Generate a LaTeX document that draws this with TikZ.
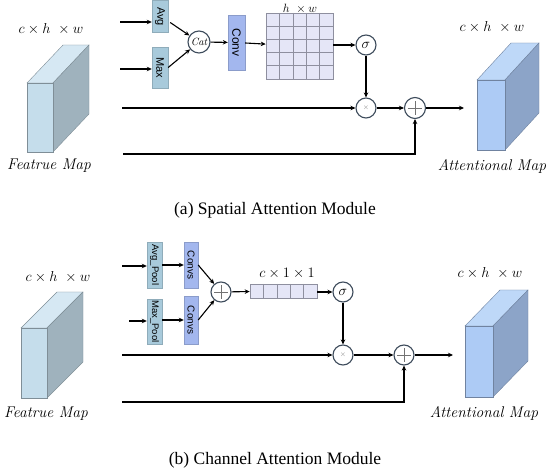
\documentclass[tikz,border=0pt]{standalone}
\usepackage{fontspec}
\setsansfont{Liberation Sans}
\newfontfamily\capfont{Liberation Serif}
\usepackage{graphicx}
\usetikzlibrary{arrows.meta}

\definecolor{featfront}{HTML}{C5DDEB}
\definecolor{feattop}{HTML}{D6E8F3}
\definecolor{featside}{HTML}{9FB2BD}
\definecolor{attfront}{HTML}{ADCBF5}
\definecolor{atttop}{HTML}{BED8F8}
\definecolor{attside}{HTML}{8CA4C8}
\definecolor{poolfill}{HTML}{A8CADB}
\definecolor{convfill}{HTML}{A3B7EE}
\definecolor{cellfill}{HTML}{E5E6F7}
\definecolor{cellline}{HTML}{8E8F9F}
\definecolor{ringcol}{HTML}{3E4C5C}

% block: x, y(top), width, height, dx, dy, front, top, side
\newcommand{\drawblock}[9]{%
  \filldraw[fill=#8, draw=#9!80!black, line width=0.4pt] (#1,#2) -- (#1+#3,#2) -- ++(#5,-#6) -- ++(-#3,0) -- cycle;
  \filldraw[fill=#9, draw=#9!80!black, line width=0.4pt] (#1+#3,#2) -- ++(#5,-#6) -- ++(0,#4) -- (#1+#3,#2+#4) -- cycle;
  \filldraw[fill=#7, draw=#9!80!black, line width=0.4pt] (#1,#2) rectangle ++(#3,#4);
}

\begin{document}
\begin{tikzpicture}[x=1pt,y=-1pt,
  dimtext/.style={font=\fontsize{14.5}{14.5}\selectfont},
  mapname/.style={font=\fontsize{15.5}{15.5}\selectfont\itshape},
  caption/.style={font=\capfont\fontsize{17.5}{17.5}\selectfont},
  pool/.style={draw=poolfill!85!black, fill=poolfill, minimum width=15, inner sep=0, font=\sffamily\fontsize{9.5}{9.5}\selectfont},
  conv/.style={draw=convfill!85!black, fill=convfill, minimum width=16, inner sep=0, font=\sffamily\fontsize{10}{10}\selectfont},
  ring/.style={circle, draw=ringcol, fill=white, line width=1.1pt, minimum size=20, inner sep=0},
  plus/.style={path picture={
    \draw[gray!90!black, line width=0.6pt] ([xshift=-7pt]path picture bounding box.center) -- ([xshift=7pt]path picture bounding box.center);
    \draw[gray!90!black, line width=0.6pt] ([yshift=-7pt]path picture bounding box.center) -- ([yshift=7pt]path picture bounding box.center);}},
  cellbox/.style={draw=cellline, fill=cellfill, inner sep=0, line width=0.6pt},
  arr/.style={-{Stealth[length=5pt,width=4.5pt]}, line width=1.1pt}]
\useasboundingbox (0,0) rectangle (550,470);

% (a) spatial attention
\node[dimtext] (dimA) at (51,29) {$c\times h\ \times w$};
\drawblock{27}{83}{26}{69}{36}{38}{featfront}{feattop}{featside}
\node[mapname] (featA) at (49,166) {Featrue Map};
\coordinate (inA1) at (120,22);
\coordinate (inA2) at (120,69);
\node[pool, minimum width=16, minimum height=32, font=\sffamily\fontsize{11}{11}\selectfont] (avgA) at (160,16.5) {\rotatebox{-90}{Avg}};
\node[pool, minimum width=16, minimum height=41, font=\sffamily\fontsize{11}{11}\selectfont] (maxA) at (160,67.5) {\rotatebox{-90}{Max}};
\draw[arr] (inA1) -- (inA1 -| avgA.west);
\draw[arr] (inA2) -- (inA2 -| maxA.west);
\node[ring, minimum size=22] (catA) at (199,42) {\fontsize{10.5}{10.5}\selectfont\itshape Cat};
\draw[arr] ([xshift=2pt,yshift=-6pt]avgA.east) -- (catA);
\draw[arr] (maxA.east) -- (catA);
\node[conv, minimum width=17, minimum height=55, font=\sffamily\fontsize{12}{12}\selectfont] (convA) at (236.5,42.5) {\rotatebox{-90}{Conv}};
\draw[arr] (catA) -- (convA);
\node[cellbox, minimum width=67, minimum height=66] (gridA) at (299.5,46) {};
\foreach \i in {1,...,4} {
  \draw[cellline, line width=0.6pt] (266+\i*13.4,13) -- ++(0,66);
  \draw[cellline, line width=0.6pt] (266,13+\i*13.2) -- ++(67,0);
}
\node[anchor=base, inner sep=0, font=\fontsize{13}{13}\selectfont] (hwA) at (300,12.5) {$h\ \times w$};
\draw[arr] (convA) -- (gridA);
\node[ring] (sigA) at (366,45) {\Large$\sigma$};
\draw[arr] (gridA.east |- sigA) -- (sigA);
\node[ring] (mulA) at (366,108) {\color{gray}\scriptsize$\times$};
\node[ring, plus, minimum size=21] (addA) at (415,108) {};
\draw[arr] (sigA) -- (mulA);
\coordinate (skipA) at (122,108);
\draw[arr] (skipA) -- (mulA);
\draw[arr] (mulA) -- (addA);
\coordinate (outA) at (464,108);
\draw[arr] (addA) -- (outA);
\coordinate (resA) at (123,154);
\draw[arr] (resA) -| (addA);
\drawblock{477}{80}{28}{70}{34}{37}{attfront}{atttop}{attside}
\node[dimtext] (dimA2) at (492,27) {$c\times h\ \times w$};
\node[mapname] (attA) at (492,166) {Attentional Map};
\node[caption] (capA) at (275,210) {(a) Spatial Attention Module};

% (b) channel attention
\node[dimtext] (dimB) at (58,277) {$c\times h\ \times w$};
\drawblock{21}{328}{26}{70}{36}{36}{featfront}{feattop}{featside}
\node[mapname] (featB) at (46,414) {Featrue Map};
\coordinate (inB1) at (122,266);
\coordinate (inB2) at (129,321);
\node[pool, minimum height=46] (avgB) at (154.5,265) {\rotatebox{-90}{Avg\_Pool}};
\node[pool, minimum height=45] (maxB) at (154.5,321.5) {\rotatebox{-90}{Max\_Pool}};
\draw[arr] (inB1) -- (inB1 -| avgB.west);
\draw[arr] (inB2) -- (inB2 -| maxB.west);
\node[conv, minimum width=14, minimum height=46] (convB1) at (191,265) {\rotatebox{-90}{Convs}};
\node[conv, minimum width=14, minimum height=48] (convB2) at (191,320) {\rotatebox{-90}{Convs}};
\draw[arr] (avgB) -- (convB1);
\draw[arr] (maxB.east |- convB2) -- (convB2);
\node[ring, plus] (sumB) at (221,292) {};
\draw[arr] (convB1.east) -- (sumB);
\draw[arr] (convB2.east) -- (sumB);
\node[cellbox, minimum width=67, minimum height=14] (vecB) at (283.5,291) {};
\foreach \i in {1,...,4} {
  \draw[cellline, line width=0.6pt] (250+\i*13.4,284) -- ++(0,14);
}
\node[dimtext, font=\fontsize{15.5}{15.5}\selectfont] (c11B) at (287,273) {$c\times 1\times 1$};
\draw[arr] (sumB) -- (vecB);
\node[ring] (sigB) at (343,292) {\Large$\sigma$};
\draw[arr] (vecB.east |- sigB) -- (sigB);
\node[ring] (mulB) at (343,355) {\color{gray}\scriptsize$\times$};
\node[ring, plus] (addB) at (404,355) {};
\draw[arr] (sigB) -- (mulB);
\coordinate (skipB) at (122,355);
\draw[arr] (skipB) -- (mulB);
\draw[arr] (mulB) -- (addB);
\coordinate (outB) at (453,355);
\draw[arr] (addB) -- (outB);
\coordinate (resB) at (122,402);
\draw[arr] (resB) -| (addB);
\drawblock{465}{326}{28}{71}{35}{36}{attfront}{atttop}{attside}
\node[dimtext] (dimB2) at (490,273) {$c\times h\ \times w$};
\node[mapname] (attB) at (484,413) {Attentional Map};
\node[caption] (capB) at (275,460) {(b) Channel Attention Module};
\end{tikzpicture}
\end{document}
